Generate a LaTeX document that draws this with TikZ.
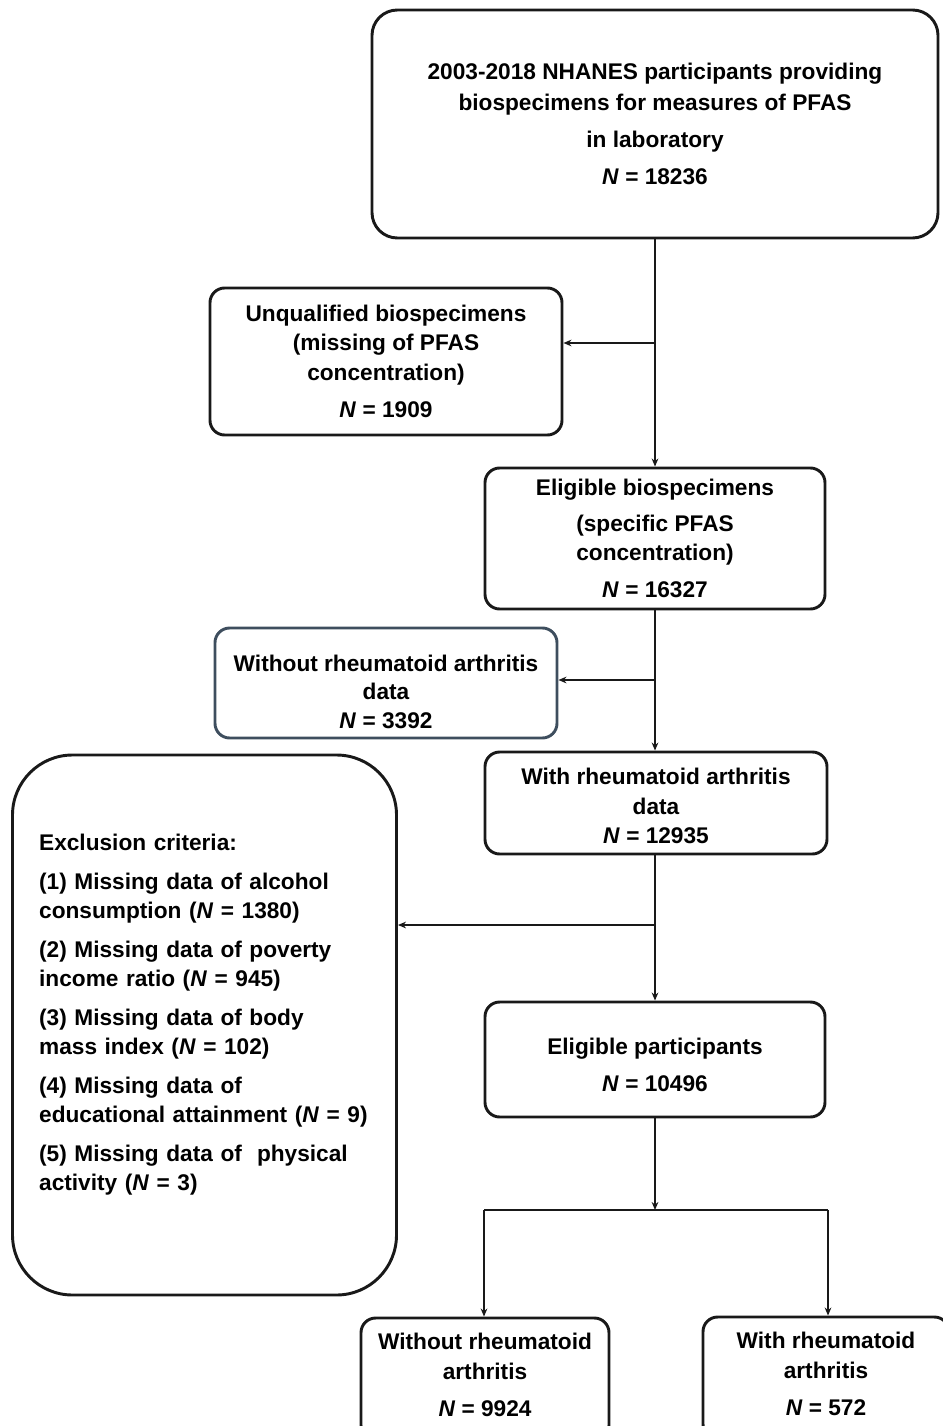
\documentclass[tikz,border=0pt]{standalone}
\usepackage{fontspec}
\setmainfont{Liberation Sans}
\usetikzlibrary{arrows.meta, calc}

\definecolor{slateline}{RGB}{62,78,94}

\begin{document}
\begin{tikzpicture}[
    x=0.75pt, y=-0.75pt,
    >={Stealth[length=6pt, width=5pt]},
    box/.style={draw=black!90, line width=2.2pt, rounded corners=11pt,
        align=center, inner sep=0pt, font=\fontsize{17}{22}\selectfont\bfseries},
    link/.style={line width=2.2pt, color=black!90},
    arr/.style={->, line width=2.2pt, color=black!90}
]

    % Frame of the page
    \useasboundingbox (0,0) rectangle (942,1426);

    % Main chain of boxes
    \node[box, rounded corners=19pt, minimum width=424.5pt, minimum height=171pt] (top) at (655,124)
        {2003-2018 NHANES participants providing\\[1pt] biospecimens for measures of PFAS\\[6pt]
         in laboratory\\[6pt] \textit{N} = 18236};
    \node[box, minimum width=255pt, minimum height=105.75pt] (eligb) at (655,538.5)
        {Eligible biospecimens\\[5pt] (specific PFAS\\ concentration)\\[6pt] \textit{N} = 16327};
    \node[box, minimum width=256.5pt, minimum height=76.5pt] (ra) at (656,803)
        {With rheumatoid arthritis\\ data\\ \textit{N} = 12935\\[-26.5pt]};
    \node[box, minimum width=255pt, minimum height=86.25pt] (elig) at (655,1059.5)
        {Eligible participants\\[6pt] \textit{N} = 10496\\[-29.5pt]};

    % Excluded boxes
    \node[box, minimum width=264pt, minimum height=110.25pt] (unq) at (386,361.5)
        {Unqualified biospecimens\\ (missing of PFAS\\ concentration)\\[6pt] \textit{N} = 1909};
    \node[box, draw=slateline, minimum width=256.5pt, minimum height=82.5pt] (nora) at (386,683)
        {Without rheumatoid arthritis\\[-1pt] data\\ \textit{N} = 3392\\[-35.5pt]};
    \node[box, rounded corners=45pt, align=left, text width=248pt, inner xsep=20pt,
        minimum height=405pt] (excl) at (204.5,1025)
        {Exclusion criteria:\\[7pt]
         (1) Missing data of alcohol\\ consumption (\textit{N} = 1380)\\[7pt]
         (2) Missing data of poverty\\ income ratio (\textit{N} = 945)\\[7pt]
         (3) Missing data of body\\ mass index (\textit{N} = 102)\\[7pt]
         (4) Missing data of\\ educational attainment (\textit{N} = 9)\\[7pt]
         (5) Missing data of\ \ physical\\ activity (\textit{N} = 3)\rule[-19pt]{0pt}{19pt}};

    % Final groups (cut by the page edge)
    \node[box, minimum width=186pt, minimum height=91.5pt] (noragrp) at (485,1379)
        {Without rheumatoid\\ arthritis\\[6pt] \textit{N} = 9924\\[-16pt]};
    \node[box, minimum width=184.5pt, minimum height=91.5pt] (ragrp) at (826,1378)
        {With rheumatoid\\ arthritis\\[6pt] \textit{N} = 572\\[-16pt]};

    % Branch points
    \coordinate (b1) at (655,343);
    \coordinate (b2) at (655,680);
    \coordinate (b3) at (655,925);
    \coordinate (split) at (655,1210);
    \coordinate (sl) at (484,1210);
    \coordinate (sr) at (828,1210);

    % Vertical flow
    \draw[arr] (top.south) -- (eligb.north);
    \draw[arr] (eligb.south) -- (ra.north -| eligb.south);
    \draw[arr] (ra.south -| elig.north) -- (elig.north);
    \draw[arr] (elig.south) -- (split);

    % Side exclusions
    \draw[arr] (b1) -- (b1 -| unq.east);
    \draw[arr] (b2) -- (b2 -| nora.east);
    \draw[arr] (b3) -- (b3 -| excl.east);

    % Split into the two groups
    \draw[link] (sl) -- (sr);
    \draw[arr] (sl) -- (sl |- noragrp.north);
    \draw[arr] (sr) -- (sr |- ragrp.north);

\end{tikzpicture}
\end{document}
